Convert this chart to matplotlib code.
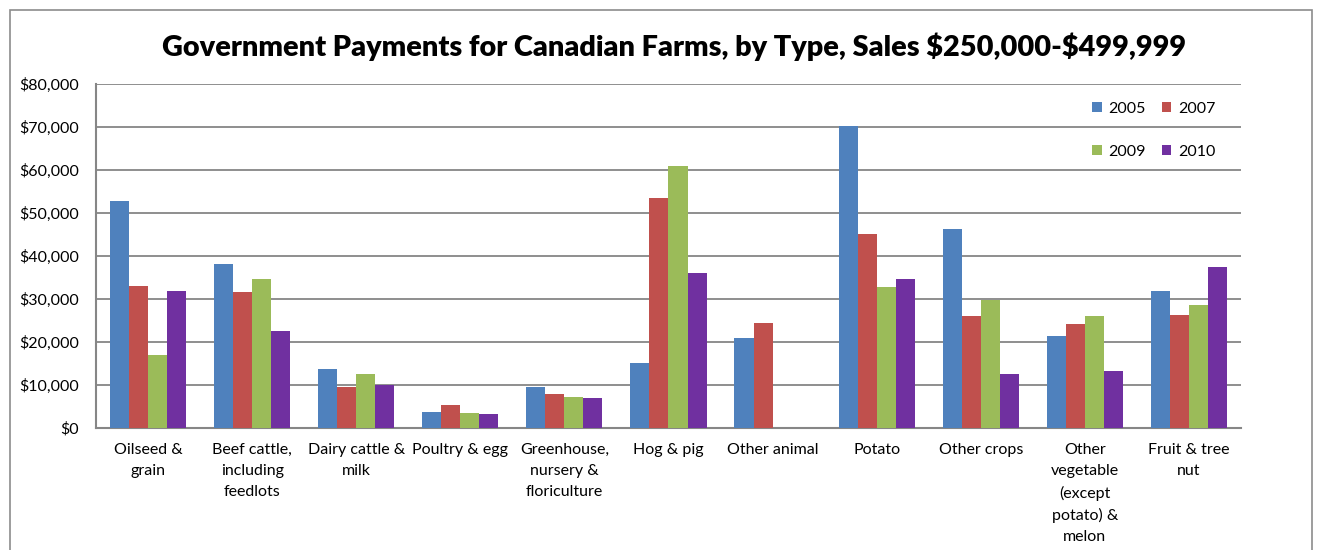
import numpy as np
import matplotlib
matplotlib.use("Agg")
import matplotlib.pyplot as plt
from matplotlib.patches import Rectangle
from matplotlib.ticker import FuncFormatter

plt.rcParams['font.family'] = ['Lato', 'DejaVu Sans']

categories = ["Oilseed &\ngrain", "Beef cattle,\nincluding\nfeedlots", "Dairy cattle &\nmilk",
              "Poultry & egg", "Greenhouse,\nnursery &\nfloriculture", "Hog & pig",
              "Other animal", "Potato", "Other crops",
              "Other\nvegetable\n(except\npotato) &\nmelon", "Fruit & tree\nnut"]
years = ["2005", "2007", "2009", "2010"]
pay_2005 = [52800, 38100, 13700, 3700, 9600, 15100, 20900, 70200, 46300, 21300, 31900]
pay_2007 = [33000, 31700, 9600, 5300, 7900, 53500, 24400, 45000, 26100, 24300, 26300]
pay_2009 = [16900, 34700, 12600, 3600, 7100, 60900, 0, 32700, 29700, 26000, 28700]
pay_2010 = [31800, 22500, 10000, 3300, 7000, 36000, 0, 34600, 12500, 13200, 37400]
colors = ["#4F81BD", "#C0504D", "#9BBB59", "#7030A0"]

fig = plt.figure(figsize=(13.24, 5.5), dpi=100)
ax = fig.add_axes([0.0725, 0.2218, 0.8648, 0.6255])

# outer chart frame, open at the bottom
fig.patches.append(Rectangle((10 / 1324, -0.1), 1302 / 1324, 1.1 - 10 / 550,
                             transform=fig.transFigure, fill=False,
                             edgecolor="#8c8c8c", linewidth=1.2))

x = np.arange(len(categories))
w = 0.183
bars = []
for i, (vals, c) in enumerate(zip([pay_2005, pay_2007, pay_2009, pay_2010], colors)):
    b = ax.bar(x + (i - 1.5) * w, vals, width=w, color=c, label=years[i], zorder=3)
    bars.append(b)

ax.set_xlim(-0.5, len(categories) - 0.5)
ax.set_ylim(0, 80000)
ax.set_yticks(np.arange(0, 80001, 10000))
ax.yaxis.set_major_formatter(FuncFormatter(lambda v, p: "${:,.0f}".format(v)))
ax.set_xticks(x)
ax.set_xticklabels(categories, fontsize=11.5, linespacing=1.62, va="top")
ax.tick_params(axis="y", length=0, pad=12, labelsize=11.5)
ax.tick_params(axis="x", length=0, pad=11)
ax.grid(axis="y", color="#868686", linewidth=1.3, zorder=0)
for s in ["top", "right"]:
    ax.spines[s].set_visible(False)
for s in ["left", "bottom"]:
    ax.spines[s].set_color("#868686")
    ax.spines[s].set_linewidth(1.5)

fig.text(0.509, 0.915, r"Government Payments for Canadian Farms, by Type, Sales \$250,000-\$499,999",
         ha="center", va="center", fontsize=20.8, fontweight="heavy")

order = [0, 2, 1, 3]
ax.legend([bars[k] for k in order], [years[k] for k in order], ncol=2, frameon=False,
          loc="upper right", bbox_to_anchor=(0.99, 0.99), fontsize=11.5,
          handlelength=0.6, handleheight=0.6, handletextpad=0.4,
          columnspacing=1.0, labelspacing=1.8)

fig.savefig("out.png", dpi=100)
